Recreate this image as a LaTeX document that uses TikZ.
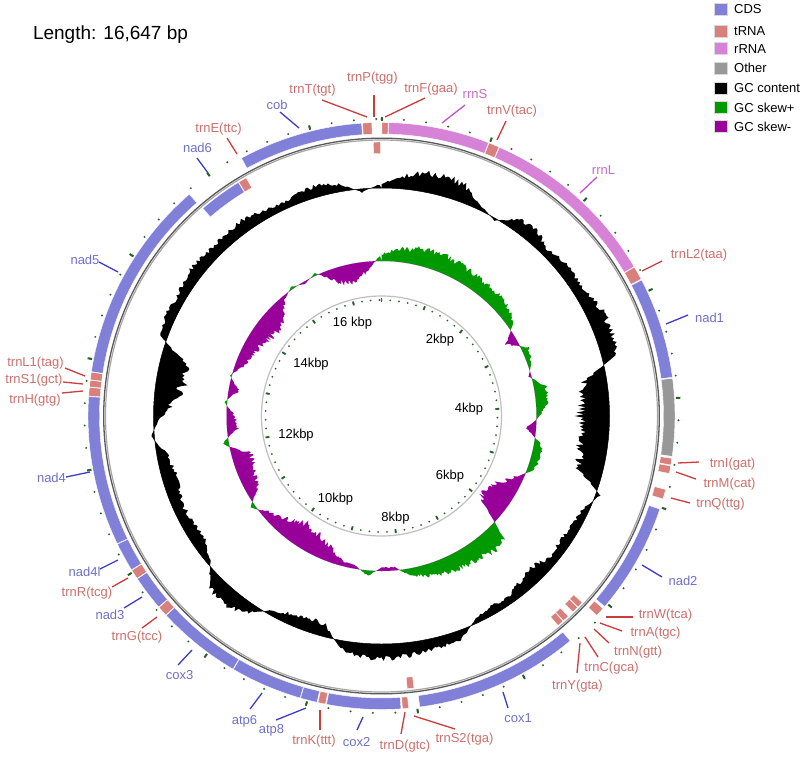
\documentclass[tikz,border=0pt]{standalone}
\usepackage{fontspec}
\setmainfont{Liberation Sans}
\definecolor{cdsF}{RGB}{128,128,216}
\definecolor{cdsT}{RGB}{112,112,205}
\definecolor{cdsL}{RGB}{60,60,200}
\definecolor{trnF}{RGB}{216,128,124}
\definecolor{trnT}{RGB}{205,112,108}
\definecolor{trnL}{RGB}{205,60,60}
\definecolor{rrnF}{RGB}{214,130,214}
\definecolor{rrnT}{RGB}{200,110,200}
\definecolor{rrnL}{RGB}{200,80,200}
\definecolor{othF}{RGB}{152,152,152}
\definecolor{skP}{RGB}{0,153,0}
\definecolor{skM}{RGB}{153,0,153}
\definecolor{tickc}{RGB}{40,100,40}
\newcommand\lblfont{\fontsize{13}{15}\selectfont}
\newcommand\band[5]{%
  \pgfmathsetmacro\angA{#1-90}%
  \pgfmathsetmacro\angB{#2-90}%
  \path[#5] (\angA:#4) arc[start angle=\angA, end angle=\angB, radius=#4] -- (\angB:#3) arc[start angle=\angB, end angle=\angA, radius=#3] -- cycle;}
\newcommand\glab[6]{%
  \node[lab#2] (#1) at (#3) {#4};
  \coordinate (#1-a) at (#5);
  \coordinate (#1-b) at (#6);
  \draw[ln#2] (#1-a) -- (#1-b);}
\def\gcenv{{5,15,22,24,20,6,-3,14,16,8,14,12,15,20,20,18,-25,-33,-35,-32,-33,-28,5,-8,-10,-12,-10,-18,-15,-8,-10,-6,10,12,14,16,18,16,10,-14,-16,-12,-4,14,20,18,-6,-14,-15,-12,-16,-18,-12,4,-10,-28,-33,-30,8,12,10,14,15,12,14,15,10,8,12,14,8,-4,5}}
\def\skenv{{8,14,18,20,22,20,18,18,16,16,14,6,-14,8,5,-3,14,14,4,-12,8,12,6,-12,-25,-35,-33,20,25,20,20,18,18,12,8,-4,-4,6,-4,-6,-15,-22,-25,-28,-22,-15,-8,6,-15,-18,-25,-20,8,-12,-10,3,-12,2,-10,-15,-18,-22,-25,-20,-5,3,-3,3,-12,-22,-20,-10,8}}
\begin{document}
\begin{tikzpicture}[x=1pt,y=-1pt,
  featC/.style={fill=cdsF, draw=white, line width=0.4},
  featT/.style={fill=trnF, draw=white, line width=0.4},
  featR/.style={fill=rrnF, draw=white, line width=0.4},
  featO/.style={fill=othF, draw=white, line width=0.4},
  labC/.style={font=\lblfont, text=cdsT, inner sep=0pt},
  labT/.style={font=\lblfont, text=trnT, inner sep=0pt},
  labR/.style={font=\lblfont, text=rrnT, inner sep=0pt},
  lnC/.style={draw=cdsL, line width=1.3},
  lnT/.style={draw=trnL, line width=1.3},
  lnR/.style={draw=rrnL, line width=1.3},
  kb/.style={font=\lblfont, text=black, inner sep=0pt},
  legbox/.style={minimum width=13pt, minimum height=12pt, inner sep=0pt, draw=white!85!black, line width=0.4},
  legtext/.style={font=\lblfont, text=black, inner sep=0pt, anchor=west}]
\useasboundingbox (0,0) rectangle (800,758);
\fill[white] (0,0) rectangle (800,758);

% ---------- computed profiles ----------
\pgfmathsetseed{4242}
\gdef\gcp{}\gdef\skg{}\gdef\skp{}
\foreach \k in {0,...,719}{%
  \pgfmathsetmacro\myT{\k*0.5}%
  \pgfmathtruncatemacro\myJ{floor(\k/10)}%
  \pgfmathsetmacro\myF{(\k-10*\myJ)/10}%
  \pgfmathsetmacro\myE{\gcenv[\myJ]*(1-\myF)+\gcenv[\myJ+1]*\myF}%
  \pgfmathsetmacro\myRg{228+\myE*(0.68+0.32*rnd)}%
  \pgfmathsetmacro\myS{\skenv[\myJ]*(1-\myF)+\skenv[\myJ+1]*\myF}%
  \pgfmathsetmacro\myN{0.68+0.32*rnd}%
  \pgfmathsetmacro\myRs{155+max(\myS,0)*\myN}%
  \pgfmathsetmacro\myRp{155+min(\myS,0)*\myN}%
  \pgfmathsetmacro\myA{\myT-90}%
  \xdef\gcp{\gcp -- (\myA:\myRg)}%
  \xdef\skg{\skg -- (\myA:\myRs)}%
  \xdef\skp{\skp -- (\myA:\myRp)}%
}

\begin{scope}[shift={(381.5,416)}]
  % GC content
  \fill[black, even odd rule] (-90:228) \gcp -- cycle (0,0) circle[radius=228];
  \draw[black, line width=0.5] (0,0) circle[radius=228];
  % GC skew
  \fill[skP, even odd rule] (-90:155) \skg -- cycle (0,0) circle[radius=155];
  \fill[skM, even odd rule] (-90:155) \skp -- cycle (0,0) circle[radius=155];
  % inner scale circle
  \draw[black!25, line width=1.2] (0,0) circle[radius=120];
  \foreach \i in {0,...,83}{%
    \pgfmathsetmacro\myA{\i*4.325103-90}%
    \fill[tickc] (\myA:116) circle[radius=1.0];
    \fill[tickc] (\myA:297) circle[radius=1.1];}
  \foreach \i in {0,...,16}{%
    \pgfmathsetmacro\myA{\i*21.625518-90}%
    \draw[tickc, line width=1.8] (\myA:114) -- (\myA:118);
    \draw[tickc, line width=2] (\myA:295) -- (\myA:299.5);}
  % backbone
  \draw[black!35, line width=1.2] (0,0) circle[radius=276];
  \draw[black!65, line width=1.3] (0,0) circle[radius=277.8];
  % outer-strand features
  \band{0.1}{1.3}{282}{293.5}{featT}
  \band{1.4}{21.4}{282}{293.5}{featR}
  \band{21.5}{23.6}{282}{293.5}{featT}
  \band{23.7}{59.4}{282}{293.5}{featR}
  \band{59.5}{62.2}{282}{293.5}{featT}
  \band{62.4}{82.4}{282}{293.5}{featC}
  \band{82.6}{97.9}{282}{293.5}{featO}
  \band{98.3}{99.6}{282}{293.5}{featT}
  \band{99.8}{101.3}{282}{293.5}{featT}
  \band{104.5}{106.4}{282}{293.5}{featT}
  \band{108.5}{130.5}{282}{293.5}{featC}
  \band{131.0}{132.8}{282}{293.5}{featT}
  \band{140.0}{172.5}{282}{293.5}{featC}
  \band{174.7}{175.9}{282}{293.5}{featT}
  \band{176.2}{190.8}{282}{293.5}{featC}
  \band{191.0}{192.5}{282}{293.5}{featT}
  \band{192.7}{196.0}{282}{293.5}{featC}
  \band{196.1}{210.3}{282}{293.5}{featC}
  \band{210.4}{227.2}{282}{293.5}{featC}
  \band{227.3}{229.3}{282}{293.5}{featT}
  \band{229.4}{236.3}{282}{293.5}{featC}
  \band{236.4}{238.3}{282}{293.5}{featT}
  \band{238.4}{244.1}{282}{293.5}{featC}
  \band{244.2}{273.8}{282}{293.5}{featC}
  \band{273.9}{275.6}{282}{293.5}{featT}
  \band{275.7}{277.0}{282}{293.5}{featT}
  \band{277.1}{278.6}{282}{293.5}{featT}
  \band{278.7}{319.1}{282}{293.5}{featC}
  \band{331.5}{356.1}{282}{293.5}{featC}
  \band{356.3}{358.1}{282}{293.5}{featT}
  % inner-strand features
  \band{132.9}{134.2}{262.5}{274}{featT}
  \band{134.3}{135.7}{262.5}{274}{featT}
  \band{137.0}{138.4}{262.5}{274}{featT}
  \band{138.5}{139.9}{262.5}{274}{featT}
  \band{173.2}{174.6}{262.5}{274}{featT}
  \band{319.3}{328.5}{262.5}{274}{featC}
  \band{328.6}{330.4}{262.5}{274}{featT}
  \band{358.3}{359.8}{262.5}{274}{featT}
\end{scope}

% inner scale labels
\node[kb] (k16) at (352.5,323) {16 kbp};
\node[kb] (k2) at (440,340) {2kbp};
\node[kb] (k4) at (469,409) {4kbp};
\node[kb] (k6) at (450,476) {6kbp};
\node[kb] (k8) at (395.5,518) {8kbp};
\node[kb] (k10) at (335.5,499) {10kbp};
\node[kb] (k12) at (296,435) {12kbp};
\node[kb] (k14) at (311,364) {14kbp};

% feature labels
\glab{cob}{C}{277,105}{cob}{299,128}{280,112}
\glab{trnE}{T}{218.5,129}{trnE(ttc)}{237,154}{227,138}
\glab{nad6}{C}{197.5,148}{nad6}{208,173}{197,158}
\glab{trnT}{T}{312.5,90}{trnT(tgt)}{367,117}{322,100}
\glab{trnP}{T}{372.5,78}{trnP(tgg)}{374,117}{374,95}
\glab{trnFg}{T}{431,89}{trnF(gaa)}{385,117}{425,98}
\glab{rrnS}{R}{475,94}{rrnS}{442,123}{465,105}
\glab{trnV}{T}{512,111}{trnV(tac)}{497,140}{506,121}
\glab{rrnLg}{R}{603.5,170}{rrnL}{580,193}{597,177}
\glab{trnL2}{T}{699,255}{trnL2(taa)}{642,271}{662,261}
\glab{nad1}{C}{709.5,318}{nad1}{666,324}{688,315}
\glab{trnI}{T}{732.5,464}{trnI(gat)}{678,463}{699,462}
\glab{trnM}{T}{729.5,484}{trnM(cat)}{676,472}{696,479}
\glab{trnQ}{T}{720.5,504}{trnQ(ttg)}{671,498}{690,503}
\glab{nad2}{C}{683,581}{nad2}{642,565}{662,577}
\glab{trnW}{T}{665.5,615}{trnW(tca)}{606,617}{633,617}
\glab{trnA}{T}{655.5,633.5}{trnA(tgc)}{600,623}{622,631}
\glab{trnN}{T}{638,652}{trnN(gtt)}{594,629}{609,643}
\glab{trnC}{T}{611.5,668.5}{trnC(gca)}{585,637}{598,657}
\glab{trnY}{T}{577.5,686.5}{trnY(gta)}{580,643}{577,673}
\glab{cox1}{C}{518,718}{cox1}{503,692}{508,708}
\glab{trnS2}{T}{464.5,739}{trnS2(tga)}{414,716}{455,729}
\glab{trnD}{T}{405,746}{trnD(gtc)}{405,712}{401,734}
\glab{cox2}{C}{356.5,742}{cox2}{363,717}{357,730}
\glab{trnK}{T}{314,741}{trnK(ttt)}{320,710}{320,730}
\glab{atp8}{C}{271.5,730.5}{atp8}{306,708}{276,720}
\glab{atp6}{C}{244.5,721}{atp6}{262,693}{250,709}
\glab{cox3}{C}{179.5,675}{cox3}{192,650}{178,665}
\glab{trnG}{T}{137,637.5}{trnG(tcc)}{157,617}{142,628}
\glab{nad3}{C}{110,615}{nad3}{142,597}{124,608}
\glab{trnR}{T}{87,593.5}{trnR(tcg)}{128,578}{112,587}
\glab{nad4l}{C}{84.5,572}{nad4l}{118,560}{100,569}
\glab{nad4}{C}{51.5,477.5}{nad4}{90,472}{66,477}
\glab{trnH}{T}{35,400}{trnH(gtg)}{83,391}{62,393}
\glab{trnS1}{T}{34,380}{trnS1(gct)}{83,384}{63,382}
\glab{trnL1}{T}{35.5,363}{trnL1(tag)}{85,376}{65,368}
\glab{nad5}{C}{85,260}{nad5}{118,272}{99,262}

% title
\node[font=\fontsize{19}{22}\selectfont, inner sep=0pt] (title) at (110.5,35) {Length: 16,647 bp};

% legend
\node[legbox, fill=cdsF] (lgC) at (721,9) {};
\node[legtext] (ltC) at (734,9) {CDS};
\node[legbox, fill=trnF] (lgT) at (721,30.7) {};
\node[legtext] (ltT) at (734,30.7) {tRNA};
\node[legbox, fill=rrnF] (lgR) at (721,48.6) {};
\node[legtext] (ltR) at (734,48.6) {rRNA};
\node[legbox, fill=othF] (lgO) at (721,68) {};
\node[legtext] (ltO) at (734,68) {Other};
\node[legbox, fill=black] (lgG) at (721,88) {};
\node[legtext] (ltG) at (734,88) {GC content};
\node[legbox, fill=skP] (lgP) at (721,107.5) {};
\node[legtext] (ltP) at (734,107.5) {GC skew+};
\node[legbox, fill=skM] (lgM) at (721,126.5) {};
\node[legtext] (ltM) at (734,126.5) {GC skew-};
\end{tikzpicture}
\end{document}
